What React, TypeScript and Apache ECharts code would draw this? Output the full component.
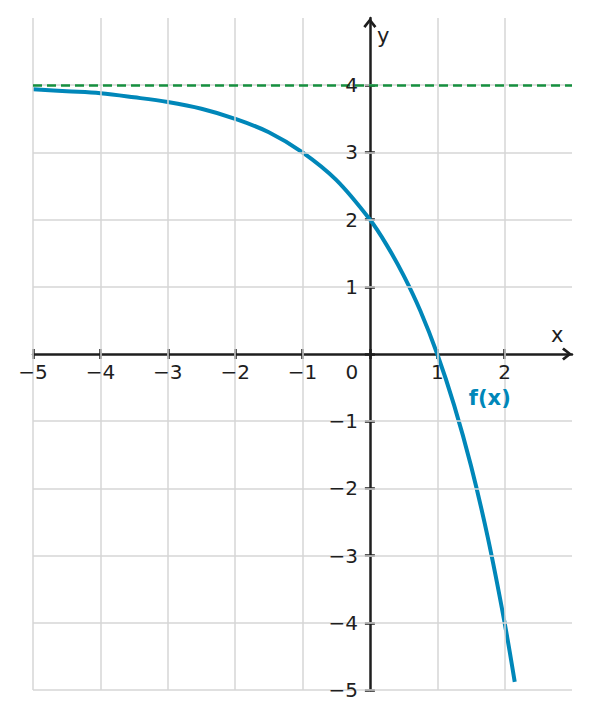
import React, { useEffect, useRef } from 'react'
import * as echarts from 'echarts'

const curveX = [-5, -4.5, -4, -3.5, -3, -2.5, -2, -1.5, -1, -0.5, 0, 0.25, 0.5, 0.75, 1, 1.25, 1.5, 1.75, 2, 2.15]
const curveY = [3.94, 3.91, 3.88, 3.82, 3.75, 3.65, 3.5, 3.3, 3.0, 2.59, 2.0, 1.62, 1.17, 0.64, 0, -0.76, -1.66, -2.73, -4.0, -4.88]
const asymptoteY = 4

const gridX = [-5, -4, -3, -2, -1, 1, 2]
const gridY = [-5, -4, -3, -2, -1, 1, 2, 3, 4]
const xTicks = [-5, -4, -3, -2, -1, 0, 1, 2]
const yTicks = [-5, -4, -3, -2, -1, 0, 1, 2, 3, 4]
const xLabels = [-5, -4, -3, -2, -1, 0, 1, 2]
const yLabels = [-5, -4, -3, -2, -1, 1, 2, 3, 4]
const curveName = 'f(x)'
const curveNameAt = [1.78, -0.65]

const AXIS = '#1e1e1e'
const GRID = '#d6d6d6'
const BLUE = '#0087b9'
const GREEN = '#16903f'
const FONT = 'DejaVu Sans'

const chevron = 'path://M5,0 L10,6.2 L8.4,7.6 L5,3.2 L1.6,7.6 L0,6.2 Z'

const fmt = (v: number) => (v < 0 ? '\u2212' + Math.abs(v) : String(v))

const App: React.FC = () => {
  const chartRef = useRef<HTMLDivElement>(null)

  useEffect(() => {
    if (!chartRef.current) return
    const chart = echarts.init(chartRef.current, null, { renderer: 'svg' })
    const labelStyle = { color: AXIS, fontSize: 20, fontFamily: FONT, textBorderWidth: 0 }

    const axisLine = {
      onZero: true,
      symbol: ['none', chevron],
      symbolSize: [14, 10],
      symbolOffset: [0, -5],
      lineStyle: { color: AXIS, width: 2.5 }
    }
    const tickStyle = { color: AXIS, width: 2.5 }

    // second pair of axes only carries the ticks on the other side of each axis line
    const tickOnly = (ticks: number[]) => ({
      type: 'value',
      axisLine: { show: false, onZero: true },
      axisTick: { show: true, length: 5, customValues: ticks, lineStyle: tickStyle },
      axisLabel: { show: false },
      splitLine: { show: false }
    })

    chart.setOption({
      animation: false,
      grid: { left: 33, right: 17, top: 18, bottom: 29, outerBoundsMode: 'none', containLabel: false },
      xAxis: [
        {
          type: 'value',
          min: -5,
          max: 3,
          interval: 1,
          name: 'x',
          nameLocation: 'end',
          nameGap: -21,
          nameTextStyle: { ...labelStyle, fontSize: 21, align: 'left', verticalAlign: 'bottom', padding: [0, 0, 9, 0] },
          axisLine,
          axisTick: { show: true, length: 5, customValues: xTicks, lineStyle: tickStyle },
          axisLabel: { show: false },
          splitLine: { show: false }
        },
        { ...tickOnly(xTicks), position: 'top', min: -5, max: 3, interval: 1 }
      ],
      yAxis: [
        {
          type: 'value',
          min: -5,
          max: 5,
          interval: 1,
          name: 'y',
          nameLocation: 'end',
          nameGap: -18,
          nameTextStyle: { ...labelStyle, fontSize: 21, align: 'left', verticalAlign: 'middle', padding: [0, 0, 0, 7] },
          axisLine,
          axisTick: { show: true, length: 5, customValues: yTicks, lineStyle: tickStyle },
          axisLabel: { show: false },
          splitLine: { show: false }
        },
        { ...tickOnly(yTicks), position: 'right', min: -5, max: 5, interval: 1 }
      ],
      series: [
        {
          type: 'line',
          silent: true,
          data: [],
          markLine: {
            silent: true,
            symbol: 'none',
            label: { show: false },
            lineStyle: { color: GRID, width: 1.5, type: 'solid' },
            data: [...gridX.map((v) => ({ xAxis: v })), ...gridY.map((v) => ({ yAxis: v }))]
          }
        },
        {
          type: 'line',
          silent: true,
          data: [],
          z: 3,
          markLine: {
            silent: true,
            symbol: 'none',
            label: { show: false },
            lineStyle: { color: GREEN, width: 2.5, type: [9, 5] },
            data: [{ yAxis: asymptoteY }]
          }
        },
        {
          type: 'line',
          data: curveX.map((x, i) => [x, curveY[i]]),
          smooth: 0.35,
          showSymbol: false,
          silent: true,
          z: 4,
          lineStyle: { color: BLUE, width: 4 }
        },
        // x tick labels
        {
          type: 'scatter',
          silent: true,
          symbolSize: 0,
          z: 5,
          itemStyle: { opacity: 1 },
          data: xLabels.map((v) => ({
            value: [v, 0],
            label: v === 0 ? { offset: [-18, 0] } : undefined
          })),
          label: {
            show: true,
            position: 'bottom',
            distance: 8,
            ...labelStyle,
            formatter: (p: any) => fmt(p.value[0])
          }
        },
        // y tick labels
        {
          type: 'scatter',
          silent: true,
          symbolSize: 0,
          z: 5,
          itemStyle: { opacity: 1 },
          data: yLabels.map((v) => [0, v]),
          label: {
            show: true,
            position: 'left',
            distance: 12,
            ...labelStyle,
            formatter: (p: any) => fmt(p.value[1])
          }
        },
        {
          type: 'scatter',
          silent: true,
          data: [curveNameAt],
          symbolSize: 0,
          z: 5,
          itemStyle: { opacity: 1 },
          label: {
            show: true,
            position: 'inside',
            formatter: curveName,
            color: BLUE,
            fontSize: 21,
            fontWeight: 'bold',
            fontFamily: FONT,
            textBorderWidth: 0
          }
        }
      ]
    })

    return () => {
      chart.dispose()
    }
  }, [])

  return (
    <div
      ref={chartRef}
      style={{ position: 'fixed', left: 0, top: 0, width: 589, height: 719, background: '#fff' }}
    />
  )
}

export default App
